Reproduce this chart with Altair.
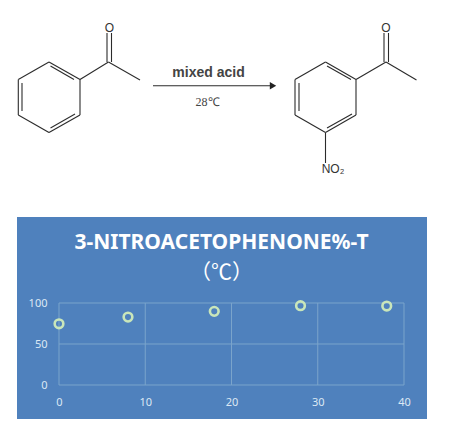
import altair as alt
import pandas as pd

# scatter data
temps = [0, 8, 18, 28, 38]
yields = [74.6, 82.8, 89.8, 96.7, 96.3]
x_ticks = [0, 10, 20, 30, 40]
y_ticks = [0, 50, 100]

# reaction scheme, in picture units (x1, y1, x2, y2)
bonds = [
    (49, 62, 80, 79.5), (80, 79.5, 80, 115), (80, 115, 49, 132.5),
    (49, 132.5, 18.3, 115), (18.3, 115, 18.3, 79.5), (18.3, 79.5, 49, 62),
    (50.5, 66, 74, 79.5), (22, 83, 22, 111), (50.5, 128, 75, 114),
    (80, 79.5, 108.5, 62), (108.5, 62, 140, 80),
    (107, 62, 107, 33), (111.5, 62, 111.5, 33),
    (325.5, 62, 356, 79.5), (356, 79.5, 356, 115), (356, 115, 325.5, 132.5),
    (325.5, 132.5, 295, 115), (295, 115, 295, 79.5), (295, 79.5, 325.5, 62),
    (327, 66, 351, 79.5), (299, 83, 299, 111), (327, 128, 352, 114),
    (356, 79.5, 386, 62), (386, 62, 416.5, 80),
    (384, 62, 384, 33), (388.5, 62, 388.5, 33),
    (325.5, 132.5, 325.5, 163),
    (153, 85.7, 270, 85.7),
]
labels = [
    ("O", 109.5, 27.5, 12, "normal", "Liberation Sans", "#333333"),
    ("O", 386, 27.5, 12, "normal", "Liberation Sans", "#333333"),
    ("NO₂", 333, 169, 12, "normal", "Liberation Sans", "#333333"),
    ("mixed acid", 208.5, 72.5, 14, "bold", "Liberation Sans", "#444444"),
    ("28℃", 207.5, 102, 12, "normal", "Liberation Serif", "#444444"),
    ("3-NITROACETOPHENONE%-T", 221.5, 243, 21, "bold", "Noto Sans", "#ffffff"),
    ("（℃）", 221.5, 273, 21, "normal", "Noto Sans CJK SC", "#ffffff"),
]
arrow_tip = [(273, 85.7)]
panel = [(17, 217, 427, 419)]

BLUE = "#4f81bd"
GRID = "#7ba4cb"
LABEL = "#dce8f4"

px = alt.Scale(domain=[0, 450], range=[-59, 391], nice=False, zero=False)
py = alt.Scale(domain=[0, 433], range=[-303, 130], nice=False, zero=False)
sx = alt.Scale(domain=[0, 40], nice=False, zero=False)
sy = alt.Scale(domain=[0, 100], nice=False, zero=False)

bond_df = pd.DataFrame(bonds, columns=["x", "y", "x2", "y2"])
label_df = pd.DataFrame(labels, columns=["t", "x", "y", "size", "weight", "font", "color"])
panel_df = pd.DataFrame(panel, columns=["x", "y", "x2", "y2"])


def pos(x="x:Q", y="y:Q"):
    return dict(x=alt.X(x, scale=px, axis=None), y=alt.Y(y, scale=py, axis=None))


bg = alt.Chart(panel_df).mark_rect(color=BLUE, clip=False).encode(
    **pos(), x2="x2:Q", y2="y2:Q")
lines = alt.Chart(bond_df).mark_rule(color="#2b2b2b", strokeWidth=1.1, clip=False).encode(
    **pos(), x2="x2:Q", y2="y2:Q")
tip = alt.Chart(pd.DataFrame(arrow_tip, columns=["x", "y"])).mark_point(
    shape="triangle-right", filled=True, color="#222222", size=55, opacity=1).encode(**pos())

texts = []
for row in label_df.to_dict("records"):
    texts.append(
        alt.Chart(pd.DataFrame([row])).mark_text(
            fontSize=row["size"], fontWeight=row["weight"], font=row["font"],
            color=row["color"], align="center", baseline="middle",
        ).encode(**pos(), text="t:N")
    )

vgrid = alt.Chart(pd.DataFrame({"v": x_ticks})).mark_rule(color=GRID, strokeWidth=1).encode(
    x=alt.X("v:Q", scale=sx, axis=None))
hgrid = alt.Chart(pd.DataFrame({"v": y_ticks})).mark_rule(color=GRID, strokeWidth=1).encode(
    y=alt.Y("v:Q", scale=sy, axis=None))

points = alt.Chart(pd.DataFrame({"t": temps, "p": yields})).mark_point(
    filled=False, color="#c9e6ba", strokeWidth=2.6, size=75, opacity=1, clip=False
).encode(
    x=alt.X("t:Q", scale=sx, title=None, axis=alt.Axis(
        values=x_ticks, grid=False, domain=False, ticks=False, labelColor=LABEL,
        labelFontSize=11, labelFont="Noto Sans", labelPadding=11, zindex=1,
        labelOverlap=False, labelFlush=False)),
    y=alt.Y("p:Q", scale=sy, title=None, axis=alt.Axis(
        values=y_ticks, grid=False, domain=False, ticks=False, labelColor=LABEL,
        labelFontSize=11, labelFont="Noto Sans", labelPadding=12, zindex=1,
        labelOverlap=False, labelFlush=False)),
)

chart = alt.layer(bg, lines, tip, *texts, vgrid, hgrid, points).resolve_scale(
    x="independent", y="independent"
).resolve_axis(x="independent", y="independent").properties(
    width=345,
    height=82,
    background="#ffffff",
    padding={"left": 51, "top": 295, "right": 30, "bottom": 35},
    autosize=alt.AutoSizeParams(type="none"),
).configure_view(stroke=None)

chart.save("out.html", embed_options={"renderer": "svg", "actions": False})
